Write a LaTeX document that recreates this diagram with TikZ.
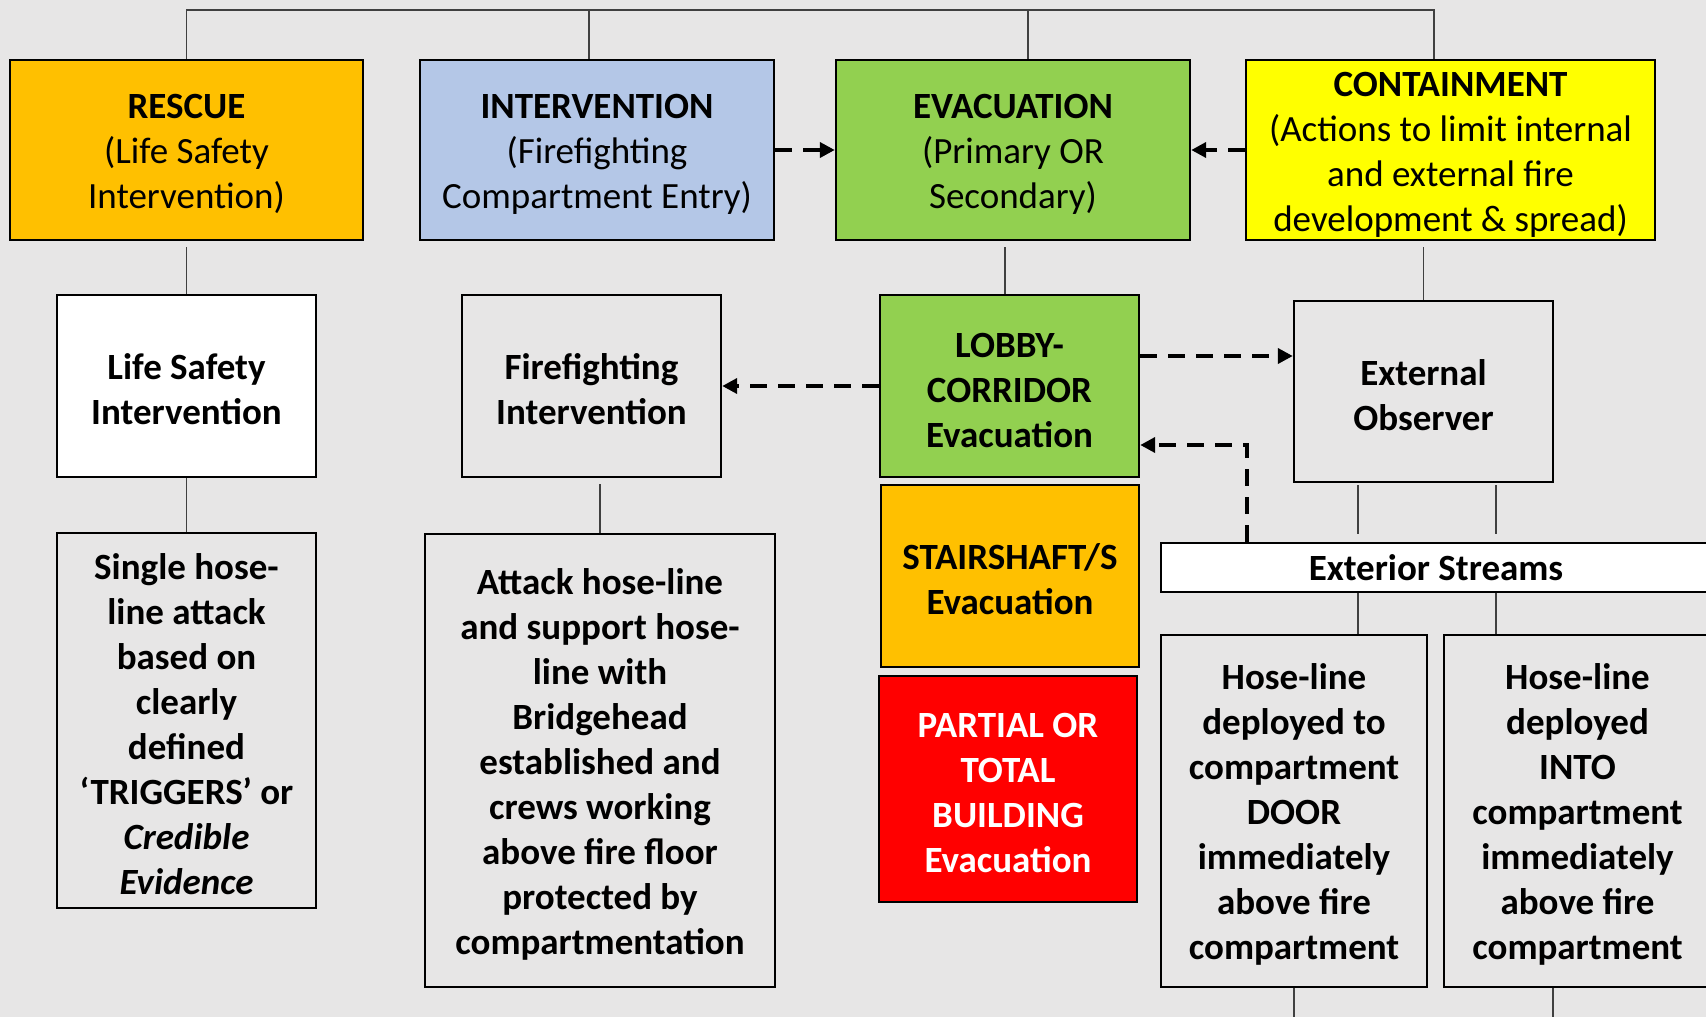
\documentclass[tikz,border=0pt]{standalone}
\usepackage{fontspec}
\setmainfont{Carlito}
\usetikzlibrary{arrows.meta}

\definecolor{bgcol}{HTML}{E7E6E6}
\definecolor{rescuecol}{HTML}{FFC000}
\definecolor{intercol}{HTML}{B4C7E7}
\definecolor{evaccol}{HTML}{92D050}
\definecolor{contcol}{HTML}{FFFF00}
\definecolor{linkcol}{HTML}{404040}

\newcommand{\tallline}{\rule{0pt}{16.5pt}}

\tikzset{
  box/.style={draw=black,line width=1.2pt,inner sep=0pt,align=center,
    font=\fontsize{18.5pt}{22.5pt}\selectfont},
  link/.style={draw=linkcol,line width=0.7pt},
  flow/.style={draw=black,line width=2pt,dash pattern=on 8.5pt off 5.5pt,
    -{Triangle[length=7.5pt,width=7.5pt]}}
}

\begin{document}
\begin{tikzpicture}[x=0.5pt,y=-0.5pt]
\useasboundingbox (0,0) rectangle (1706,1017);
\clip (0,0) rectangle (1706,1017);
\fill[bgcol] (0,0) rectangle (1706,1017);

% top row
\node[box,fill=rescuecol,minimum width=176.5pt,minimum height=90pt] (rescue) at (186.5,150)
  {\tallline\textbf{RESCUE}\\(Life Safety\\Intervention)};
\node[box,fill=intercol,minimum width=177pt,minimum height=90pt] (interv) at (597,150)
  {\tallline\textbf{INTERVENTION}\\(Firefighting\\Compartment Entry)};
\node[box,fill=evaccol,minimum width=177pt,minimum height=90pt] (evac) at (1013,150)
  {\tallline\textbf{EVACUATION}\\(Primary OR\\Secondary)};
\node[box,fill=contcol,minimum width=204.5pt,minimum height=90pt] (contain) at (1450.5,150)
  {\tallline\textbf{CONTAINMENT}\\(Actions to limit internal\\and external fire\\development \& spread)};

% second row
\node[box,fill=white,font=\fontsize{18.5pt}{22.5pt}\selectfont\bfseries,
  minimum width=129.5pt,minimum height=91pt] (life) at (186.5,386)
  {\tallline Life Safety\\Intervention};
\node[box,fill=bgcol,font=\fontsize{18.5pt}{22.5pt}\selectfont\bfseries,
  minimum width=129.5pt,minimum height=91pt] (fight) at (591.5,386)
  {\tallline Firefighting\\Intervention};
\node[box,fill=evaccol,font=\fontsize{18.5pt}{22.5pt}\selectfont\bfseries,
  minimum width=129.5pt,minimum height=91pt] (lobby) at (1009.5,386)
  {\tallline LOBBY-\\CORRIDOR\\Evacuation};
\node[box,fill=bgcol,font=\fontsize{18.5pt}{22.5pt}\selectfont\bfseries,
  minimum width=129.5pt,minimum height=90.5pt] (extobs) at (1423.5,391.5)
  {\tallline External\\Observer};

% lower boxes
\node[box,fill=bgcol,font=\fontsize{18.5pt}{22.5pt}\selectfont\bfseries,
  minimum width=129.5pt,minimum height=187.5pt] (single) at (186.5,720.5)
  {\tallline Single hose-\\line attack\\based on\\clearly\\defined\\‘TRIGGERS’ or\\\textit{Credible}\\\textit{Evidence}};
\node[box,fill=bgcol,font=\fontsize{18.5pt}{22.5pt}\selectfont\bfseries,
  minimum width=175pt,minimum height=226.5pt] (attack) at (600,760.5)
  {\tallline Attack hose-line\\and support hose-\\line with\\Bridgehead\\established and\\crews working\\above fire floor\\protected by\\compartmentation};
\node[box,fill=rescuecol,font=\fontsize{18.5pt}{22.5pt}\selectfont\bfseries,
  minimum width=129pt,minimum height=91pt] (stair) at (1010,576)
  {\tallline STAIRSHAFT/S\\Evacuation};
\node[box,fill=red,text=white,font=\fontsize{18.5pt}{22.5pt}\selectfont\bfseries,
  minimum width=129pt,minimum height=113pt] (partial) at (1008,789)
  {\tallline PARTIAL OR\\TOTAL\\BUILDING\\Evacuation};
\node[box,fill=white,font=\fontsize{18.5pt}{22.5pt}\selectfont\bfseries,
  minimum width=275pt,minimum height=24.5pt] (streams) at (1436,567.5)
  {Exterior Streams};
\node[box,fill=bgcol,font=\fontsize{18.5pt}{22.5pt}\selectfont\bfseries,
  minimum width=133pt,minimum height=176pt] (door) at (1294,811)
  {\tallline Hose-line\\deployed to\\compartment\\DOOR\\immediately\\above fire\\compartment};
\node[box,fill=bgcol,font=\fontsize{18.5pt}{22.5pt}\selectfont\bfseries,
  minimum width=133.5pt,minimum height=176pt] (into) at (1577.5,811)
  {\tallline Hose-line\\deployed\\INTO\\compartment\\immediately\\above fire\\compartment};

% bracket over the top row
\coordinate (topl) at (186.5,10);
\coordinate (topr) at (1434,10);
\coordinate (iv) at ([xshift=-4pt]interv.north);
\coordinate (ev) at ([xshift=7.5pt]evac.north);
\coordinate (cn) at ([xshift=-8.25pt]contain.north);
\draw[link] (rescue.north) -- (topl) -- (topr) -- (cn);
\draw[link] (iv) -- (iv |- topl);
\draw[link] (ev) -- (ev |- topl);

% thin links down
\draw[link,shorten <=3pt] (rescue.south) -- (life.north);
\draw[link] (life.south) -- (single.north);
\draw[link,shorten <=3pt] (attack.north |- fight.south) -- (attack.north);
\coordinate (lb) at ([xshift=-2.25pt]lobby.north);
\draw[link,shorten <=3pt] (lb |- evac.south) -- (lb);
\draw[link,shorten <=3pt] (extobs.north |- contain.south) -- (extobs.north);
\coordinate (s1) at ([xshift=-32.75pt]extobs.south);
\coordinate (s2) at ([xshift=36.25pt]extobs.south);
\foreach \s in {s1,s2} {
  \draw[link,shorten <=1pt,shorten >=4pt] (\s) -- (\s |- streams.north);
  \draw[link] (\s |- streams.south) -- (\s |- door.north);
}
\coordinate (bot) at (0,1017);
\coordinate (dn) at ([xshift=-12.25pt]into.south);
\draw[link] (door.south) -- (door.south |- bot);
\draw[link] (dn) -- (dn |- bot);

% dashed flows
\draw[flow] (interv.east) -- (evac.west);
\draw[flow] (contain.west) -- (evac.east);
\draw[flow] (lobby.west) -- (fight.east);
\coordinate (lo1) at ([yshift=15pt]lobby.east);
\draw[flow] (lo1) -- (lo1 -| extobs.west);
\coordinate (lo2) at ([yshift=-29.5pt]lobby.east);
\coordinate (st1) at ([xshift=-94.5pt]streams.north);
\draw[flow] (st1) |- (lo2);
\end{tikzpicture}
\end{document}
